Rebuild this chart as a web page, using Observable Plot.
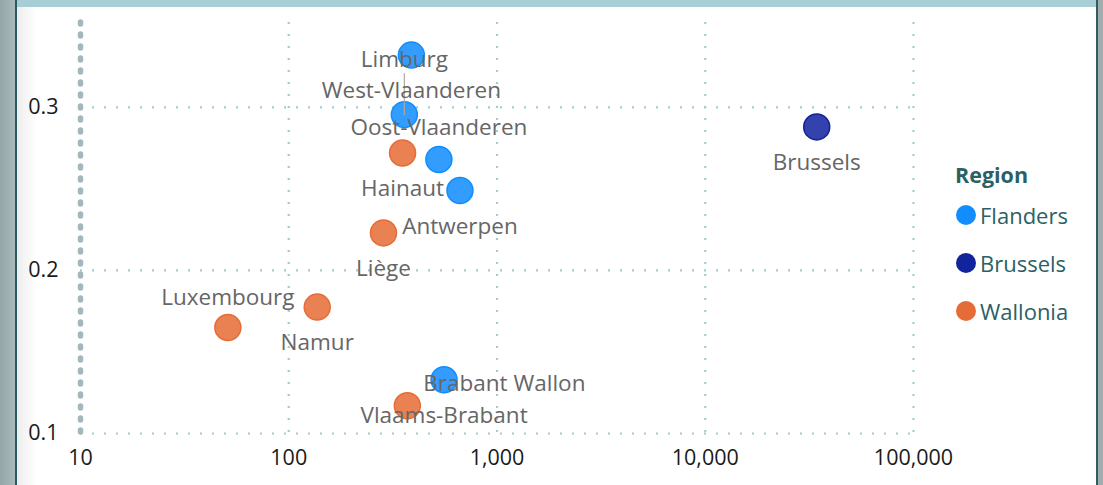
<!DOCTYPE html>
<html><head><meta charset="utf-8">
<script src="https://cdn.jsdelivr.net/npm/d3@7"></script>
<script src="https://cdn.jsdelivr.net/npm/@observablehq/plot@0.6"></script>
<style>
html,body{margin:0;padding:0;background:#fff;width:1103px;height:485px;overflow:hidden;font-family:"Open Sans",sans-serif;}
#wrap{position:relative;width:1103px;height:485px;background:#fff;}
#chart{position:absolute;left:0;top:0;}
.fr{position:absolute;pointer-events:none;}
#legend{position:absolute;left:955px;top:160px;color:#2c5f66;font-family:"Open Sans",sans-serif;}
#legend .title{font-weight:700;font-size:21.5px;line-height:30px;margin-bottom:10px;}
#legend .item{position:relative;height:48px;font-size:22px;line-height:30px;}
#legend .sw{position:absolute;left:1px;top:5px;width:20px;height:20px;border-radius:50%;}
#legend .lab{position:absolute;left:25px;top:0;}
</style></head><body>
<div id="wrap">
  <div id="chart"></div>
  <div class="fr" style="left:0;top:0;width:15px;height:485px;background:linear-gradient(to right,#94a5a8,#aabbbd);"></div>
  <div class="fr" style="left:15px;top:0;width:2px;height:485px;background:#2a5a61;"></div>
  <div class="fr" style="left:17px;top:0;width:20px;height:485px;background:linear-gradient(to right,rgba(0,0,0,0.07),rgba(0,0,0,0));"></div>
  <div class="fr" style="left:17px;top:0;width:1079px;height:7px;background:#a5cfd5;"></div>
  <div class="fr" style="left:1096px;top:0;width:2px;height:485px;background:#2f5b62;"></div>
  <div class="fr" style="left:1098px;top:0;width:5px;height:485px;background:#a0acae;"></div>
  <div id="legend"></div>
</div>
<script>
// ---- data ----
const provinces = ["West-Vlaanderen","Limburg","Hainaut","Oost-Vlaanderen","Antwerpen","Liège","Luxembourg","Namur","Vlaams-Brabant","Brabant Wallon","Brussels"];
const provinceRegion = ["Flanders","Flanders","Wallonia","Flanders","Flanders","Wallonia","Wallonia","Wallonia","Flanders","Wallonia","Brussels"];
const xValues = [388, 359, 352, 526, 664, 285, 51, 137, 557, 371, 34300];
const yValues = [0.332, 0.2955, 0.272, 0.268, 0.249, 0.223, 0.165, 0.1775, 0.133, 0.117, 0.288];
const regionNames = ["Flanders","Brussels","Wallonia"];
const regionColors = ["#118DFF","#12239E","#E66C37"];
const xTicks = [10, 100, 1000, 10000, 100000];
const yTicks = [0.1, 0.2, 0.3];
const legendTitle = "Region";

const data = provinces.map((name, i) => ({name, region: provinceRegion[i], x: xValues[i], y: yValues[i]}));
const pick = names => data.filter(d => names.includes(d.name));

const labelFont = {fontSize: 22.5, fill: "#666666", fontFamily: "Open Sans"};

const chart = Plot.plot({
  width: 1103,
  height: 485,
  marginLeft: 80,
  marginRight: 190,
  marginTop: 22,
  marginBottom: 52,
  style: {background: "transparent", fontFamily: "Open Sans", overflow: "visible"},
  x: {type: "log", domain: [10, 100000], ticks: xTicks, tickFormat: d3.format(","), label: null},
  y: {domain: [0.1, 0.352], ticks: yTicks, tickFormat: d3.format(".1f"), label: null},
  color: {domain: regionNames, range: regionColors},
  marks: [
    Plot.ruleY(yTicks, {stroke: "#9fcdd2", strokeWidth: 2.2, strokeDasharray: "2 10"}),
    Plot.ruleX(xTicks.slice(1), {stroke: "#9fcdd2", strokeWidth: 2.2, strokeDasharray: "2 10"}),
    Plot.ruleX([10], {stroke: "#a3b8bc", strokeWidth: 5.5, strokeDasharray: "2 10", strokeLinecap: "round"}),
    Plot.axisX({ticks: xTicks, tickFormat: d3.format(","), tickSize: 0, tickPadding: 16, fontSize: 21.5, fill: "#1a1a1a", label: null}),
    Plot.axisY({ticks: yTicks, tickFormat: d3.format(".1f"), tickSize: 0, tickPadding: 22, fontSize: 21.5, fill: "#1a1a1a", label: null}),
    Plot.dot(data, {x: "x", y: "y", r: 13, fill: "region", stroke: "region", fillOpacity: 0.86, strokeWidth: 1.5}),
    Plot.vector(pick(["Limburg"]), {x: "x", y: "y", length: 41, rotate: 0, anchor: "start", stroke: "#aaaaaa", strokeWidth: 1.2,
      shape: {draw(ctx, l) { ctx.moveTo(0, 0); ctx.lineTo(0, -l); }}}),
    Plot.text(pick(["West-Vlaanderen","Hainaut","Antwerpen","Liège","Namur","Vlaams-Brabant","Brussels"]), {x: "x", y: "y", text: "name", dy: 36, lineAnchor: "middle", ...labelFont}),
    Plot.text(pick(["Oost-Vlaanderen"]), {x: "x", y: "y", text: "name", dy: -32, lineAnchor: "middle", ...labelFont}),
    Plot.text(pick(["Luxembourg"]), {x: "x", y: "y", text: "name", dy: -30, lineAnchor: "middle", ...labelFont}),
    Plot.text(pick(["Limburg"]), {x: "x", y: "y", text: "name", dy: -55, lineAnchor: "middle", ...labelFont}),
    Plot.text(pick(["Brabant Wallon"]), {x: "x", y: "y", text: "name", dx: 16, dy: -22, textAnchor: "start", lineAnchor: "middle", ...labelFont})
  ]
});
document.getElementById("chart").appendChild(chart);

// legend
const lg = document.getElementById("legend");
const t = document.createElement("div"); t.className = "title"; t.textContent = legendTitle; lg.appendChild(t);
regionNames.forEach((n, i) => {
  const it = document.createElement("div"); it.className = "item";
  const sw = document.createElement("span"); sw.className = "sw"; sw.style.background = regionColors[i];
  const lb = document.createElement("span"); lb.className = "lab"; lb.textContent = n;
  it.appendChild(sw); it.appendChild(lb); lg.appendChild(it);
});
</script>
</body></html>
